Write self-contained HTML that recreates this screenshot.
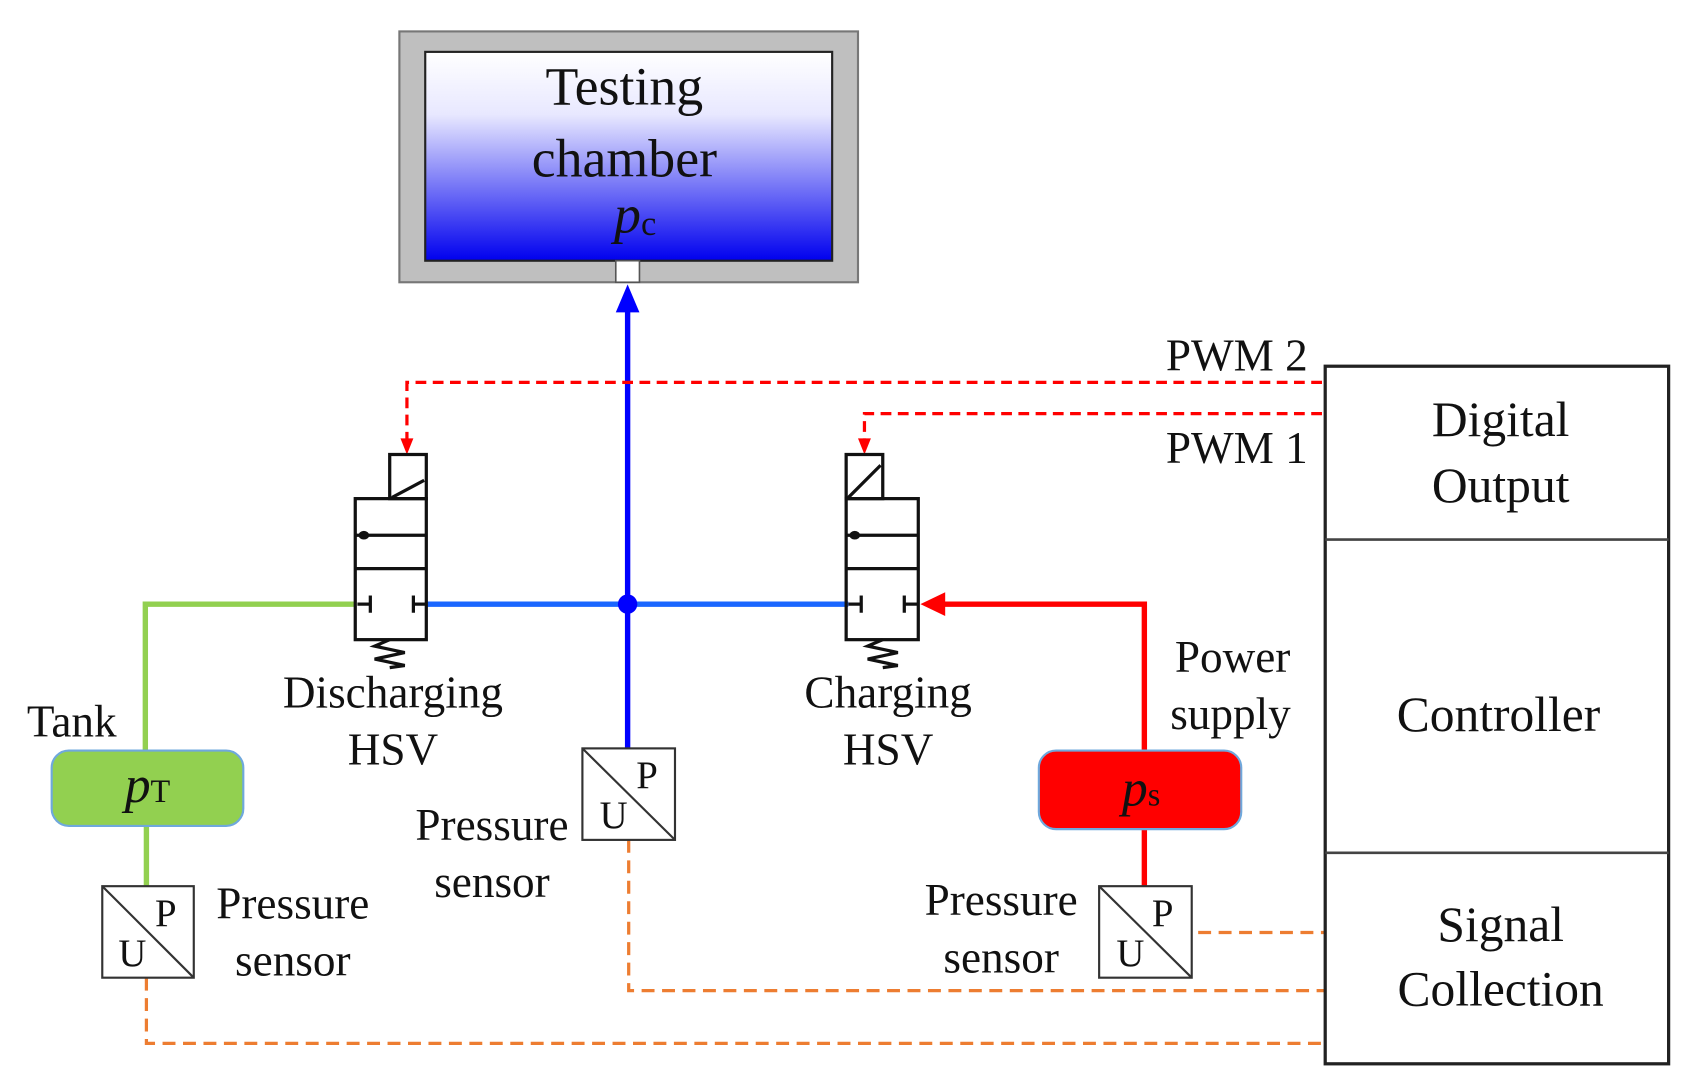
<!DOCTYPE html>
<html><head><meta charset="utf-8"><style>html,body{margin:0;padding:0;background:#fff}svg{display:block}svg text{font-family:"Liberation Serif","DejaVu Serif",serif}</style></head><body>
<svg width="1688" height="1092" viewBox="0 0 1568 1014" xmlns="http://www.w3.org/2000/svg" fill="none">
<defs>
<linearGradient id="g" x1="0" y1="0" x2="0" y2="1"><stop offset="0" stop-color="#fff"/><stop offset="0.3" stop-color="#e8e8ff"/><stop offset="1" stop-color="#0000ee"/></linearGradient>
</defs>
<rect x="371" y="29" width="426" height="233" fill="#bfbfbf" stroke="#777" stroke-width="2"/>
<rect x="395" y="48" width="378" height="194" fill="url(#g)" stroke="#222" stroke-width="2"/>
<rect x="572" y="242" width="22" height="20" fill="#fff" stroke="#555" stroke-width="1.5"/>
<g fill="#111" font-size="50" text-anchor="middle">
<text x="580" y="97">Testing</text><text x="580" y="164">chamber</text>
<text x="590" y="216" font-style="italic">p<tspan font-size="32" font-style="normal" dy="2">c</tspan></text>
</g>
<line x1="583" y1="285" x2="583" y2="695" stroke="#0000ff" stroke-width="5"/>
<polygon points="583,264 572,290 594,290" fill="#0000ff"/>
<line x1="396" y1="561" x2="788" y2="561" stroke="#1a66ff" stroke-width="5"/>
<circle cx="583" cy="561" r="9" fill="#0000ff"/>
<polyline points="330,561 135,561 135,697" stroke="#92d050" stroke-width="5"/>
<line x1="136" y1="767" x2="136" y2="823" stroke="#92d050" stroke-width="5"/>
<polyline points="1063,697 1063,561 870,561" stroke="#ff0000" stroke-width="5"/>
<polygon points="855,561 878,550 878,572" fill="#ff0000"/>
<line x1="1063" y1="770" x2="1063" y2="823" stroke="#ff0000" stroke-width="5"/>
<polyline points="1228,355 378,355 378,410" stroke="#ff0000" stroke-width="3" stroke-dasharray="10,6"/>
<polygon points="378,422 372,407 384,407" fill="#ff0000"/>
<polyline points="1228,384 803,384 803,410" stroke="#ff0000" stroke-width="3" stroke-dasharray="10,6"/>
<polygon points="803,422 797,407 809,407" fill="#ff0000"/>
<g stroke="#ed7d31" stroke-width="3" stroke-dasharray="12,7">
<line x1="1113" y1="866" x2="1230" y2="866"/>
<polyline points="584,780 584,920 1230,920"/>
<polyline points="136,908 136,969 1230,969"/>
</g>
<g stroke="#111" stroke-width="3">
<rect x="362" y="422" width="34" height="41"/><line x1="364" y1="462" x2="394" y2="446"/>
<rect x="330" y="463" width="66" height="131"/><line x1="330" y1="497" x2="396" y2="497"/><line x1="330" y1="528" x2="396" y2="528"/>
<line x1="332" y1="561" x2="344" y2="561"/><line x1="344" y1="553" x2="344" y2="569"/>
<line x1="384" y1="561" x2="396" y2="561"/><line x1="384" y1="553" x2="384" y2="569"/>
<polyline points="362,594 348,600 376,606 348,612 376,618 362,620"/>
<rect x="786" y="422" width="34" height="41"/><line x1="788" y1="462" x2="818" y2="432"/>
<rect x="786" y="463" width="67" height="131"/><line x1="786" y1="497" x2="853" y2="497"/><line x1="786" y1="528" x2="853" y2="528"/>
<line x1="788" y1="561" x2="800" y2="561"/><line x1="800" y1="553" x2="800" y2="569"/>
<line x1="840" y1="561" x2="853" y2="561"/><line x1="840" y1="553" x2="840" y2="569"/>
<polyline points="820,594 806,600 834,606 806,612 834,618 820,620"/>
</g>
<ellipse cx="338" cy="497" rx="5" ry="4" fill="#111"/><ellipse cx="794" cy="497" rx="5" ry="4" fill="#111"/>
<rect x="48" y="697" width="178" height="70" rx="16" fill="#92d050" stroke="#6fa8dc" stroke-width="2"/>
<rect x="965" y="697" width="188" height="73" rx="16" fill="#ff0000" stroke="#6fa8dc" stroke-width="2"/>
<g fill="#111" font-size="48" font-style="italic" text-anchor="middle">
<text x="137" y="745">p<tspan font-size="30" font-style="normal">T</tspan></text>
<text x="1060" y="748">p<tspan font-size="30" font-style="normal">s</tspan></text>
</g>
<g stroke="#333" stroke-width="2" fill="#fff">
<rect x="95" y="823" width="85" height="85"/><rect x="541" y="695" width="86" height="85"/><rect x="1021" y="823" width="86" height="85"/>
</g>
<g stroke="#333" stroke-width="2">
<line x1="95" y1="823" x2="180" y2="908"/><line x1="541" y1="695" x2="627" y2="780"/><line x1="1021" y1="823" x2="1107" y2="908"/>
</g>
<g fill="#111" font-size="36">
<text x="144" y="860">P</text><text x="110" y="897">U</text>
<text x="591" y="732">P</text><text x="557" y="769">U</text>
<text x="1070" y="860">P</text><text x="1037" y="897">U</text>
</g>
<rect x="1231" y="340" width="319" height="648" stroke="#222" stroke-width="3"/>
<line x1="1231" y1="501" x2="1550" y2="501" stroke="#444" stroke-width="2.5"/>
<line x1="1231" y1="792" x2="1550" y2="792" stroke="#444" stroke-width="2.5"/>
<g fill="#111" font-size="46" text-anchor="middle">
<text x="1394" y="405">Digital</text><text x="1394" y="466">Output</text>
<text x="1392" y="679">Controller</text>
<text x="1394" y="874">Signal</text><text x="1394" y="934">Collection</text>
</g>
<g fill="#111" font-size="42">
<text x="1083" y="344">PWM 2</text><text x="1083" y="430">PWM 1</text>
<text x="25" y="684">Tank</text>
<g text-anchor="middle">
<text x="365" y="657">Discharging</text><text x="365" y="710">HSV</text>
<text x="825" y="657">Charging</text><text x="825" y="710">HSV</text>
<text x="1145" y="624">Power</text><text x="1143" y="677">supply</text>
<text x="272" y="853">Pressure</text><text x="272" y="906">sensor</text>
<text x="457" y="780">Pressure</text><text x="457" y="833">sensor</text>
<text x="930" y="850">Pressure</text><text x="930" y="903">sensor</text>
</g></g>
</svg>
</body></html>
